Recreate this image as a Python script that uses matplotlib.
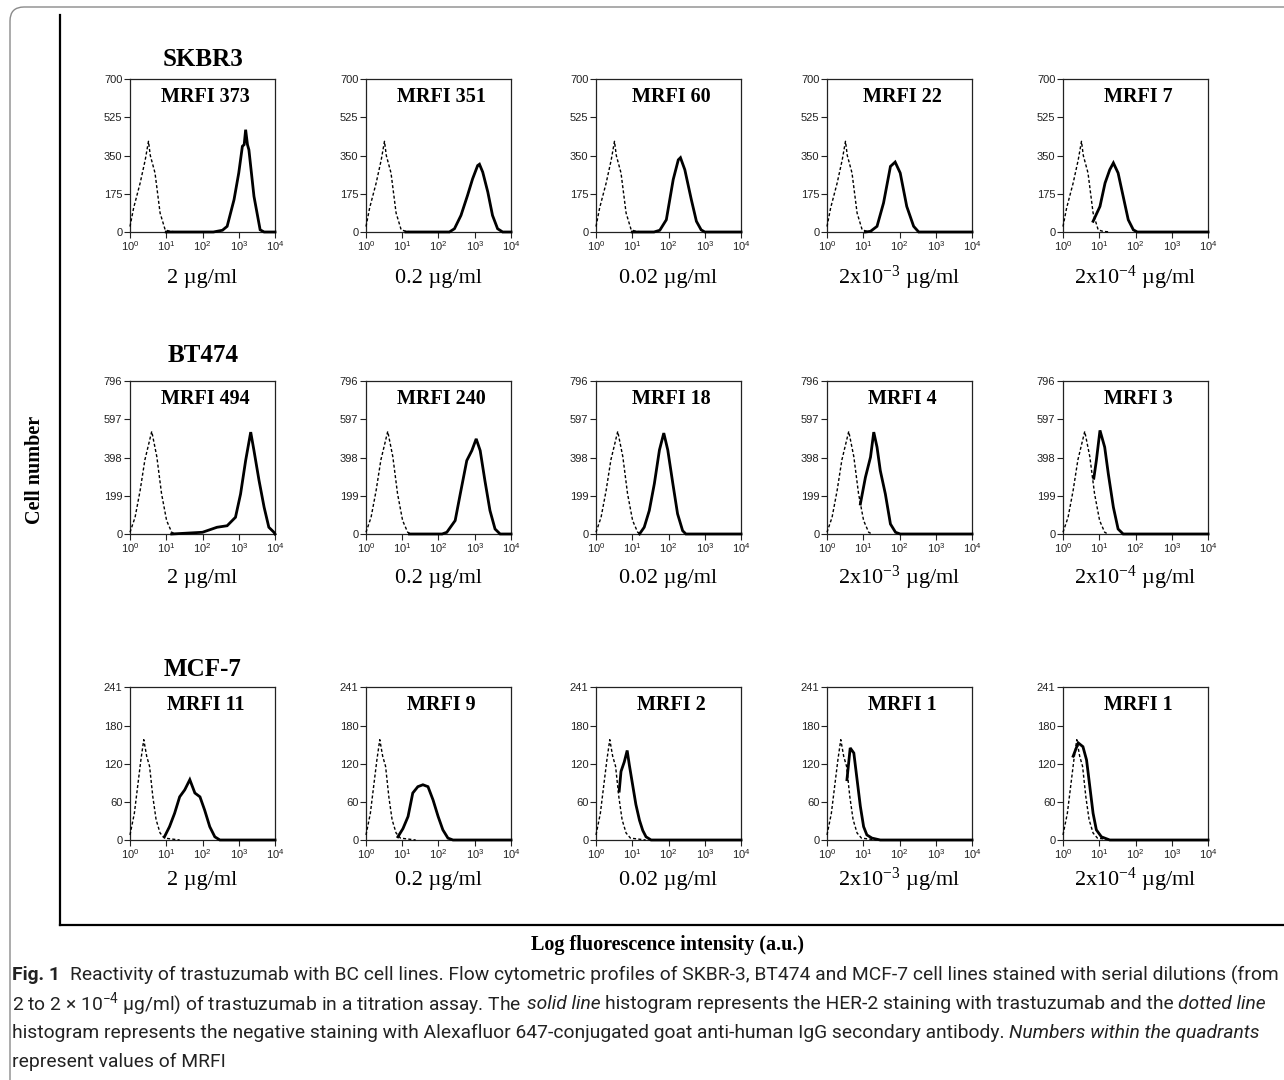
import matplotlib
matplotlib.use("Agg")
import matplotlib.pyplot as plt
import numpy as np
from matplotlib import font_manager
from matplotlib.patches import FancyBboxPatch
from matplotlib.lines import Line2D
from matplotlib.transforms import IdentityTransform
from matplotlib.ticker import NullLocator

# ---------------- data (x in log10 fluorescence, y = cell counts) ----------------
ROW_NAMES = ["SKBR3", "BT474", "MCF-7"]
CONCENTRATIONS = ["2 µg/ml", "0.2 µg/ml", "0.02 µg/ml", "2x10$^{-3}$ µg/ml", "2x10$^{-4}$ µg/ml"]
MRFI = [[373, 351, 60, 22, 7],
        [494, 240, 18, 4, 3],
        [11, 9, 2, 1, 1]]
Y_MAX = [700, 796, 241]
Y_TICKS = [[0, 175, 350, 525, 700],
           [0, 199, 398, 597, 796],
           [0, 60, 120, 180, 241]]
X_TICK_LABELS = ["10$^{0}$", "10$^{1}$", "10$^{2}$", "10$^{3}$", "10$^{4}$"]

# negative (dotted) histograms, one per cell line
NEG_X = [[0.0, 0.1, 0.28, 0.42, 0.51, 0.56, 0.69, 0.83, 0.97, 1.1, 1.3],
         [0.0, 0.14, 0.28, 0.41, 0.6, 0.74, 0.87, 1.01, 1.15, 1.24],
         [0.0, 0.12, 0.21, 0.3, 0.38, 0.46, 0.54, 0.63, 0.72, 0.83, 0.95, 1.37]]
NEG_Y = [[25, 110, 224, 330, 415, 350, 270, 87, 10, 3, 0],
         [9, 87, 227, 385, 534, 402, 210, 70, 9, 0],
         [8, 42, 84, 126, 158, 132, 116, 68, 32, 11, 3, 0]]

# trastuzumab (solid) histograms
SKBR3_POS_X = [[1.0, 2.3, 2.55, 2.68, 2.87, 3.0, 3.1, 3.15, 3.19, 3.24, 3.28, 3.42, 3.59, 3.7, 4.0],
               [1.1, 2.3, 2.44, 2.62, 2.8, 2.94, 3.08, 3.13, 3.22, 3.36, 3.49, 3.63, 3.77, 4.0],
               [1.0, 1.6, 1.76, 1.94, 2.13, 2.27, 2.33, 2.45, 2.63, 2.77, 2.9, 3.0, 4.0],
               [1.06, 1.2, 1.38, 1.56, 1.75, 1.88, 2.02, 2.2, 2.39, 2.53, 4.0],
               [0.83, 1.02, 1.16, 1.29, 1.39, 1.52, 1.66, 1.8, 1.94, 2.05, 4.0]]
SKBR3_POS_Y = [[0, 0, 8, 26, 148, 270, 392, 400, 468, 400, 376, 163, 10, 0, 0],
               [0, 0, 15, 76, 167, 243, 304, 310, 274, 183, 76, 15, 0, 0],
               [0, 0, 8, 56, 240, 330, 340, 285, 148, 49, 10, 0, 0],
               [0, 3, 26, 133, 300, 320, 270, 117, 26, 0, 0],
               [49, 117, 224, 285, 316, 270, 163, 56, 10, 0, 0]]
BT474_POS_X = [[1.15, 2.0, 2.4, 2.68, 2.91, 3.05, 3.19, 3.33, 3.42, 3.56, 3.7, 3.83, 3.97, 4.0],
               [1.2, 2.1, 2.23, 2.46, 2.6, 2.78, 2.92, 3.04, 3.15, 3.28, 3.42, 3.56, 3.7, 4.0],
               [1.2, 1.33, 1.47, 1.61, 1.75, 1.87, 1.98, 2.12, 2.25, 2.39, 2.48, 4.0],
               [0.92, 1.06, 1.2, 1.29, 1.38, 1.47, 1.61, 1.75, 1.89, 2.02, 4.0],
               [0.85, 0.92, 1.02, 1.15, 1.25, 1.39, 1.52, 1.66, 4.0]]
BT474_POS_Y = [[0, 9, 35, 43, 87, 208, 382, 530, 434, 278, 139, 35, 9, 0],
               [0, 0, 9, 70, 208, 382, 434, 495, 434, 278, 122, 26, 0, 0],
               [0, 35, 122, 262, 437, 525, 437, 262, 105, 17, 0, 0],
               [156, 295, 400, 530, 452, 330, 208, 52, 9, 0, 0],
               [290, 382, 539, 452, 313, 139, 26, 0, 0]]
MCF7_POS_X = [[0.95, 1.09, 1.23, 1.37, 1.51, 1.65, 1.79, 1.93, 2.06, 2.2, 2.34, 2.48, 4.0],
              [0.88, 1.02, 1.16, 1.29, 1.43, 1.57, 1.71, 1.85, 1.99, 2.12, 2.26, 2.4, 4.0],
              [0.64, 0.69, 0.78, 0.86, 0.92, 1.01, 1.1, 1.2, 1.29, 1.38, 1.52, 4.0],
              [0.55, 0.64, 0.74, 0.83, 0.92, 1.01, 1.1, 1.24, 1.47, 4.0],
              [0.28, 0.42, 0.55, 0.65, 0.74, 0.83, 0.92, 1.06, 1.29, 4.0]]
MCF7_POS_Y = [[5, 21, 42, 68, 79, 95, 74, 68, 47, 21, 5, 0, 0],
              [5, 18, 37, 74, 84, 87, 84, 63, 37, 16, 3, 0, 0],
              [77, 108, 123, 141, 118, 87, 56, 31, 15, 5, 0, 0],
              [95, 145, 137, 95, 53, 21, 8, 3, 0, 0],
              [132, 153, 147, 126, 84, 42, 16, 5, 0, 0]]

POS_X = [SKBR3_POS_X, BT474_POS_X, MCF7_POS_X]
POS_Y = [SKBR3_POS_Y, BT474_POS_Y, MCF7_POS_Y]

CAPTION = [
    [("Fig. 1", "bold"), ("  Reactivity of trastuzumab with BC cell lines. Flow cytometric profiles of SKBR-3, BT474 and MCF-7 cell lines stained with serial dilutions (from", "normal")],
    [("2 to 2 × 10$^{−4}$ µg/ml) of trastuzumab in a titration assay. The ", "normal"), ("solid line", "italic"),
     (" histogram represents the HER-2 staining with trastuzumab and the ", "normal"), ("dotted line", "italic")],
    [("histogram represents the negative staining with Alexafluor 647-conjugated goat anti-human IgG secondary antibody. ", "normal"),
     ("Numbers within the quadrants", "italic")],
    [("represent values of MRFI", "normal")],
]

# ---------------- style ----------------
plt.rcParams["mathtext.default"] = "regular"
SERIF = "Liberation Serif"
SANS = "Liberation Sans"
names = {f.name for f in font_manager.fontManager.ttflist}
CAP_FONT = "Liberation Sans Narrow" if "Liberation Sans Narrow" in names else "Roboto"

W, H = 1284, 1080
fig = plt.figure(figsize=(W / 100, H / 100), dpi=100)

AX_LEFTS = [130, 366, 596, 827, 1063]
AX_TOPS = [79, 381, 687]
AX_W, AX_H = 145, 153
TITLE_Y = [59, 356, 669]
CONC_Y = [278, 578, 880]

for r in range(3):
    fig.text((AX_LEFTS[0] + 73) / W, 1 - TITLE_Y[r] / H, ROW_NAMES[r], ha="center", va="center",
             fontsize=18, fontweight="bold", family=SERIF)
    for c in range(5):
        ax = fig.add_axes([AX_LEFTS[c] / W, 1 - (AX_TOPS[r] + AX_H) / H, AX_W / W, AX_H / H])
        ax.plot(10 ** np.array(NEG_X[r]), NEG_Y[r], color="black", lw=1.0,
                linestyle=(0, (2.2, 1.6)), clip_on=False, zorder=3)
        ax.plot(10 ** np.array(POS_X[r][c]), POS_Y[r][c], color="black", lw=2.0,
                solid_joinstyle="miter", clip_on=False, zorder=4)
        ax.set_xscale("log")
        ax.set_xlim(1, 1e4)
        ax.set_ylim(0, Y_MAX[r])
        ax.set_xticks([1, 10, 100, 1000, 10000])
        ax.set_xticklabels(X_TICK_LABELS)
        ax.xaxis.set_minor_locator(NullLocator())
        ax.set_yticks(Y_TICKS[r])
        ax.set_yticklabels([str(v) for v in Y_TICKS[r]])
        ax.tick_params(direction="out", length=4, width=0.8, labelsize=8, pad=1.5,
                       colors="#222222", labelcolor="#222222")
        for lab in ax.get_xticklabels() + ax.get_yticklabels():
            lab.set_family(SANS)
        for sp in ax.spines.values():
            sp.set_linewidth(0.9)
            sp.set_color("#222222")
        ax.text(0.52, 0.885, f"MRFI {MRFI[r][c]}", transform=ax.transAxes, ha="center", va="center",
                fontsize=14.5, fontweight="bold", family=SERIF)
        fig.text((AX_LEFTS[c] + AX_W / 2) / W, 1 - CONC_Y[r] / H, CONCENTRATIONS[c],
                 ha="center", va="center", fontsize=16, family=SERIF)

# axis titles
fig.text(35 / W, 1 - 470 / H, "Cell number", rotation=90, ha="center", va="center",
         fontsize=14.5, fontweight="bold", family=SERIF)
fig.text(668 / W, 1 - 945 / H, "Log fluorescence intensity (a.u.)", ha="center", va="center",
         fontsize=14.5, fontweight="bold", family=SERIF)

# frames
outer = FancyBboxPatch((10, -30), 1320, H - 7 + 30, boxstyle="round,pad=0,rounding_size=14",
                       transform=IdentityTransform(), fill=False, edgecolor="#8a8a8a", lw=1.0)
fig.add_artist(outer)
fig.add_artist(Line2D([60, 60], [H - 15, H - 925], transform=IdentityTransform(), color="black", lw=1.6))
fig.add_artist(Line2D([60, W + 5], [H - 925, H - 925], transform=IdentityTransform(), color="black", lw=1.6))

# caption, drawn segment by segment
renderer = fig.canvas.get_renderer()
CAP_Y = [975, 1004, 1033, 1062]


def seg_width(s, style, size):
    kw = dict(fontsize=size, family=CAP_FONT)
    if style == "bold":
        kw["fontweight"] = "bold"
    if style == "italic":
        kw["fontstyle"] = "italic"
    t = fig.text(0, 0, "x" + s + "x", **kw)
    w1 = t.get_window_extent(renderer).width
    t.remove()
    t = fig.text(0, 0, "xx", **kw)
    w2 = t.get_window_extent(renderer).width
    t.remove()
    return w1 - w2, kw


# fit first line width to ~1263 px
base = 12.0
tot = sum(seg_width(s, st, base)[0] for s, st in CAPTION[0])
cap_size = base * 1262.0 / tot

for li, line in enumerate(CAPTION):
    x = 12.0
    for s, st in line:
        w, kw = seg_width(s, st, cap_size)
        lead = len(s) - len(s.lstrip(" "))
        lw_, _ = seg_width(" " * lead, st, cap_size) if lead else (0, None)
        fig.text((x + lw_) / W, 1 - CAP_Y[li] / H, s.strip(" "), ha="left", va="center",
                 color="#222222", **kw)
        x += w

fig.savefig("out.png", dpi=100)
